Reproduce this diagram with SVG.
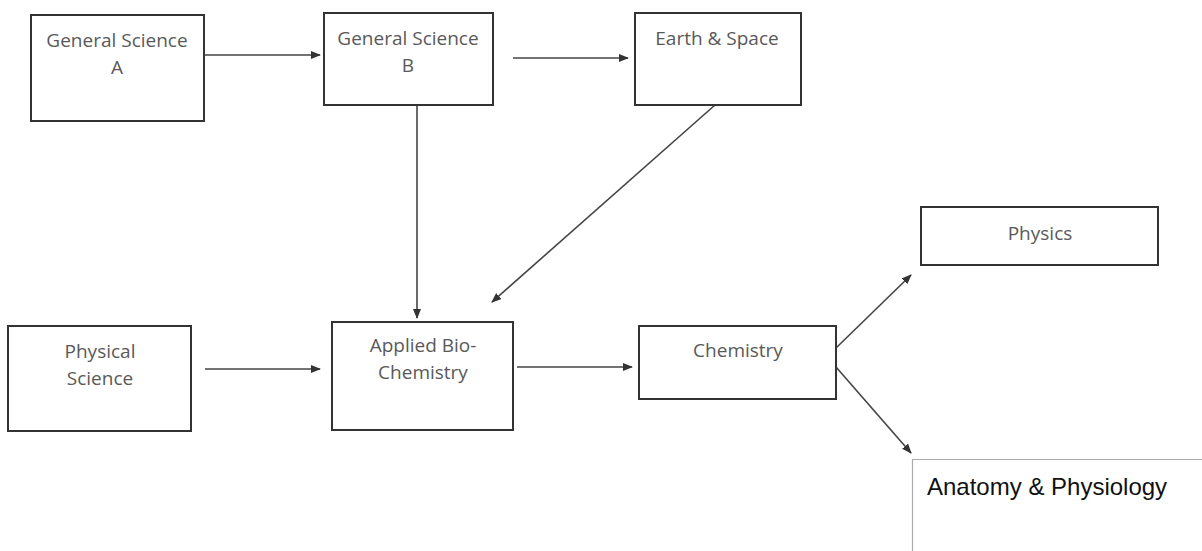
<svg xmlns="http://www.w3.org/2000/svg" width="1202" height="551" viewBox="0 0 1202 551">
<defs>
<marker id="ah" markerWidth="10" markerHeight="8" refX="9" refY="4" orient="auto" markerUnits="userSpaceOnUse">
<path d="M0,0 L10,4 L0,8 Z" fill="#333"/>
</marker>
<style>
.box{fill:#fff;stroke:#333;stroke-width:2}
.lbl{font-family:"Open Sans","Liberation Sans",sans-serif;font-size:19px;fill:#595959;text-anchor:middle}
.edge{stroke:#444;stroke-width:1.6;fill:none;marker-end:url(#ah)}
</style>
</defs>
<rect width="1202" height="551" fill="#fff"/>
<g id="connectors">
<line class="edge" x1="205" y1="55" x2="320" y2="55"/>
<line class="edge" x1="513" y1="58" x2="628" y2="58"/>
<line class="edge" x1="417" y1="106" x2="417" y2="318"/>
<line class="edge" x1="715" y1="105" x2="492" y2="302"/>
<line class="edge" x1="205" y1="369" x2="320" y2="369"/>
<line class="edge" x1="517" y1="367" x2="632" y2="367"/>
<line class="edge" x1="836" y1="348" x2="911" y2="275"/>
<line class="edge" x1="836" y1="367" x2="911" y2="453"/>
</g>
<g id="gsa">
<rect class="box" x="31" y="15" width="173" height="106"/>
<text class="lbl" x="117" y="47">General Science</text>
<text class="lbl" x="117" y="74">A</text>
</g>
<g id="gsb">
<rect class="box" x="324" y="13" width="169" height="92"/>
<text class="lbl" x="408" y="45">General Science</text>
<text class="lbl" x="408" y="72">B</text>
</g>
<g id="earth">
<rect class="box" x="635" y="13" width="166" height="92"/>
<text class="lbl" x="717" y="45">Earth &amp; Space</text>
</g>
<g id="physical">
<rect class="box" x="8" y="326" width="183" height="105"/>
<text class="lbl" x="100" y="358">Physical</text>
<text class="lbl" x="100" y="385">Science</text>
</g>
<g id="abc">
<rect class="box" x="332" y="322" width="181" height="108"/>
<text class="lbl" x="423" y="352">Applied Bio-</text>
<text class="lbl" x="423" y="379">Chemistry</text>
</g>
<g id="chemistry">
<rect class="box" x="639" y="326" width="197" height="73"/>
<text class="lbl" x="738" y="357">Chemistry</text>
</g>
<g id="physics">
<rect class="box" x="921" y="207" width="237" height="58"/>
<text class="lbl" x="1040" y="240">Physics</text>
</g>
<g id="anatomy">
<path d="M912.5,551 V459.5 H1202" fill="none" stroke="#aaa" stroke-width="1.2"/>
<text x="927" y="495" font-family="Liberation Sans, Arial, sans-serif" font-size="24" fill="#111">Anatomy &amp; Physiology</text>
</g>
</svg>
